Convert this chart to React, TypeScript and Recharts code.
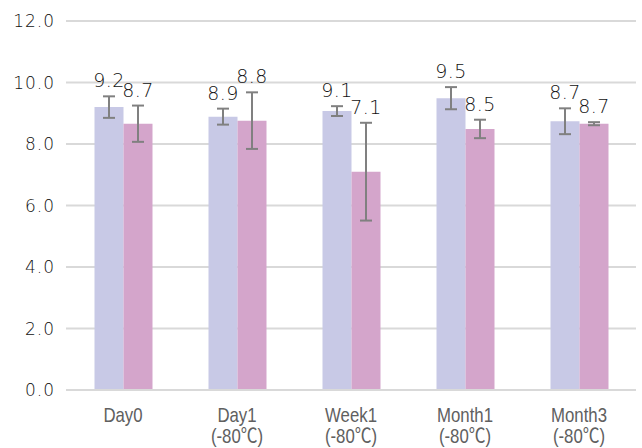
import React from "react";
import { BarChart, Bar, XAxis, YAxis, CartesianGrid, ErrorBar, LabelList } from "recharts";

const categories = ["Day0", "Day1", "Week1", "Month1", "Month3"];
const subLabels = ["", "(-80℃)", "(-80℃)", "(-80℃)", "(-80℃)"];
const seriesA = [9.2, 8.89, 9.07, 9.49, 8.74];
const seriesB = [8.66, 8.76, 7.1, 8.49, 8.66];
const errA = [0.35, 0.26, 0.16, 0.36, 0.42];
const errB = [0.59, 0.92, 1.59, 0.3, 0.05];
const yTicks = [0, 2, 4, 6, 8, 10, 12];

const data = categories.map((c, i) => ({
  name: c,
  a: seriesA[i],
  b: seriesB[i],
  ea: errA[i],
  eb: errB[i],
}));

const NUMFONT = "'DejaVu Sans', 'Noto Sans', sans-serif";
const XFONT = "'Liberation Sans', 'Noto Sans CJK JP', sans-serif";
const NUMCOLOR = "#111111";
const XCOLOR = "#606060";

const makeLabel = (errs: number[]) => (props: any) => {
  const { x, y, width, height, value, index } = props;
  const v = Number(value);
  const ppu = v ? Number(height) / v : 0;
  const top = Number(y) - errs[index] * ppu;
  return (
    <text
      x={Number(x) + Number(width) / 2}
      y={top - 9}
      textAnchor="middle"
      fill={NUMCOLOR}
      fontSize={19}
      fontWeight={200}
      letterSpacing={0.5}
      fontFamily={NUMFONT}
    >
      {v.toFixed(1)}
    </text>
  );
};

const XTick = (props: any) => {
  const { x, y, payload, index } = props;
  const sub = subLabels[index];
  return (
    <g transform={`translate(${x},${y}) scale(0.84,1)`}>
      <text x={0} y={24} textAnchor="middle" fill={XCOLOR} fontSize={20} fontFamily={XFONT}>
        {payload.value}
      </text>
      {sub ? (
        <text x={0} y={45} textAnchor="middle" fill={XCOLOR} fontSize={20} fontFamily={XFONT}>
          {sub}
        </text>
      ) : null}
    </g>
  );
};

export default function App() {
  return (
    <div style={{ position: "absolute", left: 0, top: 0, background: "#fff" }}>
      <BarChart
        width={642}
        height={448}
        data={data}
        margin={{ top: 21, right: 6, bottom: 0, left: 0 }}
        barCategoryGap="25%"
        barGap={0}
      >
        <CartesianGrid vertical={false} stroke="#d9d9d9" strokeWidth={2} />
        <XAxis
          dataKey="name"
          height={58}
          axisLine={{ stroke: "#d9d9d9", strokeWidth: 2 }}
          tickLine={false}
          tick={<XTick />}
          interval={0}
        />
        <YAxis
          width={66}
          domain={[0, 12]}
          ticks={yTicks}
          axisLine={false}
          tickLine={false}
          tickSize={0}
          tickMargin={11}
          tickFormatter={(v: number) => v.toFixed(1)}
          tick={{ fill: NUMCOLOR, fontSize: 17, fontWeight: 200, fontFamily: NUMFONT, letterSpacing: 1 }}
        />
        <Bar dataKey="a" fill="#c8c9e6" isAnimationActive={false}>
          <ErrorBar dataKey="ea" width={6} strokeWidth={2} stroke="#808080" direction="y" />
          <LabelList dataKey="a" content={makeLabel(errA)} />
        </Bar>
        <Bar dataKey="b" fill="#d4a5cb" isAnimationActive={false}>
          <ErrorBar dataKey="eb" width={6} strokeWidth={2} stroke="#808080" direction="y" />
          <LabelList dataKey="b" content={makeLabel(errB)} />
        </Bar>
      </BarChart>
    </div>
  );
}
